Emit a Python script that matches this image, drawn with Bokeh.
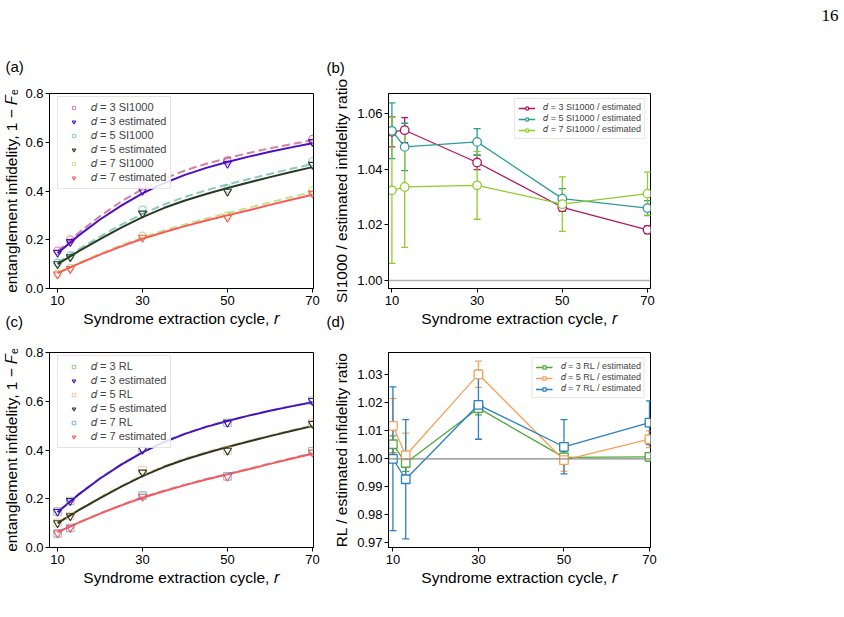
from bokeh.plotting import figure
from bokeh.layouts import column, row
from bokeh.models import (Range1d, FixedTicker, PrintfTickFormatter, Legend, LegendItem,
                          Title, Span, Whisker, TeeHead, ColumnDataSource)
from bokeh.embed import file_html
from bokeh.resources import INLINE

FONT = "Liberation Sans"

# ---------------- data ----------------
r_cycles = [10, 13, 30, 50, 70]
x_ticks = [10, 30, 50, 70]

# entanglement infidelity per distance
est_d3 = [0.147, 0.191, 0.402, 0.512, 0.602]
est_d5 = [0.100, 0.129, 0.308, 0.398, 0.508]
est_d7 = [0.058, 0.081, 0.209, 0.291, 0.390]
si_d3 = [0.155, 0.201, 0.419, 0.525, 0.613]
si_d5 = [0.105, 0.135, 0.323, 0.410, 0.521]
si_d7 = [0.060, 0.084, 0.216, 0.299, 0.402]
rl_d3 = [0.148, 0.191, 0.409, 0.512, 0.602]
rl_d5 = [0.101, 0.129, 0.317, 0.398, 0.512]
rl_d7 = [0.058, 0.080, 0.213, 0.292, 0.395]

# fitted infidelity curves
r_fit = [10, 15, 20, 25, 30, 35, 40, 45, 50, 55, 60, 65, 70]
fit_est_d3 = [0.145, 0.218, 0.283, 0.340, 0.390, 0.432, 0.466, 0.495, 0.519, 0.541, 0.561, 0.579, 0.596]
fit_si_d3 = [0.153, 0.229, 0.297, 0.357, 0.408, 0.450, 0.484, 0.512, 0.535, 0.556, 0.575, 0.592, 0.608]
fit_est_d5 = [0.100, 0.153, 0.203, 0.250, 0.293, 0.330, 0.361, 0.388, 0.412, 0.435, 0.457, 0.478, 0.498]
fit_si_d5 = [0.106, 0.161, 0.213, 0.262, 0.306, 0.344, 0.376, 0.403, 0.427, 0.449, 0.470, 0.491, 0.511]
fit_est_d7 = [0.063, 0.102, 0.139, 0.173, 0.204, 0.231, 0.256, 0.279, 0.300, 0.321, 0.343, 0.364, 0.385]
fit_si_d7 = [0.065, 0.105, 0.143, 0.178, 0.210, 0.238, 0.263, 0.287, 0.309, 0.331, 0.353, 0.375, 0.397]
fit_rl_d3 = [0.146, 0.219, 0.285, 0.342, 0.392, 0.434, 0.468, 0.497, 0.520, 0.542, 0.562, 0.580, 0.597]
fit_rl_d5 = [0.101, 0.155, 0.206, 0.253, 0.297, 0.334, 0.365, 0.392, 0.415, 0.438, 0.460, 0.481, 0.501]
fit_rl_d7 = [0.063, 0.103, 0.140, 0.175, 0.206, 0.233, 0.258, 0.281, 0.302, 0.323, 0.345, 0.366, 0.387]

# infidelity ratios and their uncertainties
ratio_si_d3 = [1.0534, 1.0540, 1.0424, 1.0263, 1.0182]
err_si_d3 = [0.0054, 0.0045, 0.0026, 0.0015, 0.0014]
ratio_si_d5 = [1.0538, 1.0480, 1.0498, 1.0294, 1.0260]
err_si_d5 = [0.0100, 0.0085, 0.0048, 0.0036, 0.0027]
ratio_si_d7 = [1.0324, 1.0336, 1.0342, 1.0274, 1.0312]
err_si_d7 = [0.0263, 0.0217, 0.0122, 0.0098, 0.0077]

ratio_rl_d3 = [1.0052, 0.9985, 1.0181, 1.0005, 1.0007]
err_rl_d3 = [0.0030, 0.0030, 0.0024, 0.0020, 0.0015]
ratio_rl_d5 = [1.0118, 1.0012, 1.0302, 0.9995, 1.0070]
err_rl_d5 = [0.0098, 0.0080, 0.0047, 0.0039, 0.0030]
ratio_rl_d7 = [1.0000, 0.9927, 1.0193, 1.0043, 1.0129]
err_rl_d7 = [0.0257, 0.0213, 0.0123, 0.0097, 0.0078]

# ---------------- colours ----------------
C_SI = {3: "#b5165f", 5: "#2b9d96", 7: "#8fcc2c"}
C_RL = {3: "#4ea93a", 5: "#f6a15a", 7: "#2b7fc3"}
C_EST = {3: "#4b0ec6", 5: "#2a3a20", 7: "#ff5757"}

XLABEL = "Syndrome extraction cycle, 𝑟"
YLABEL_INF = "entanglement infidelity, 1 − 𝐹ₑ"


def make_fig(width, height, xr, yr, left, right, top, bottom):
    p = figure(width=width, height=height, x_range=Range1d(*xr), y_range=Range1d(*yr),
               output_backend="svg", toolbar_location=None,
               min_border_left=left, min_border_right=right,
               min_border_top=top, min_border_bottom=bottom)
    p.xgrid.visible = False
    p.ygrid.visible = False
    p.outline_line_color = "black"
    p.outline_line_width = 1
    p.background_fill_color = "white"
    p.border_fill_color = "white"
    return p


def style_axes(p, yticks, yfmt, ylabel, ylab_standoff):
    p.xaxis.ticker = FixedTicker(ticks=x_ticks)
    p.yaxis.ticker = FixedTicker(ticks=yticks)
    p.xaxis.formatter = PrintfTickFormatter(format="%d")
    p.yaxis.formatter = PrintfTickFormatter(format=yfmt)
    for ax in p.axis:
        ax.axis_line_color = "black"
        ax.axis_line_width = 1
        ax.major_tick_line_color = "black"
        ax.major_tick_out = 4
        ax.major_tick_in = 0
        ax.minor_tick_line_color = None
        ax.major_label_text_font = FONT
        ax.major_label_text_font_size = "13px"
        ax.major_label_text_color = "black"
        ax.axis_label_text_font = FONT
        ax.axis_label_text_font_size = "15.5px"
        ax.axis_label_text_font_style = "normal"
        ax.axis_label_text_color = "black"
    p.xaxis.axis_label = XLABEL
    p.yaxis.axis_label = ylabel
    p.xaxis.major_label_standoff = 3
    p.xaxis.axis_label_standoff = 2
    p.yaxis.major_label_standoff = 2
    p.yaxis.axis_label_standoff = ylab_standoff


def add_title(p, text, place, offset, standoff, valign, align="left",
              size="15px", font=FONT):
    t = Title(text=text, align=align, offset=offset, standoff=standoff,
              vertical_align=valign, text_font=font, text_font_size=size,
              text_font_style="normal", text_color="black")
    p.add_layout(t, place)


def infidelity_panel(p, ref_pts, ref_fits, marker, ref_colors, ref_name):
    est_pts = {3: est_d3, 5: est_d5, 7: est_d7}
    est_fits = {3: fit_est_d3, 5: fit_est_d5, 7: fit_est_d7}
    for d in (3, 5, 7):
        p.line(r_fit, ref_fits[d], line_color=ref_colors[d], line_alpha=0.55,
               line_width=2, line_dash="8 4")
    for d in (3, 5, 7):
        p.line(r_fit, est_fits[d], line_color=C_EST[d], line_width=2)
    items = []
    for d in (3, 5, 7):
        rr = p.scatter(r_cycles, ref_pts[d], marker=marker, size=7.5, fill_color=None,
                       line_color=ref_colors[d], line_alpha=0.55, line_width=1.1)
        re = p.scatter(r_cycles, est_pts[d], marker="inverted_triangle", size=8,
                       fill_color=None, line_color=C_EST[d], line_width=1.1)
        items.append(LegendItem(label=f"𝑑 = {d} {ref_name}", renderers=[rr]))
        items.append(LegendItem(label=f"𝑑 = {d} estimated", renderers=[re]))
    leg = Legend(items=items, location=(8, 99), label_text_font=FONT,
                 label_text_font_size="11px", label_height=9, glyph_height=9,
                 glyph_width=23, label_standoff=6, spacing=1, padding=4, margin=0,
                 border_line_color="#cccccc", border_line_width=1,
                 background_fill_color="white", background_fill_alpha=0.85)
    p.add_layout(leg)


def ratio_panel(p, ratios, errs, colors, marker, name, span_color, span_width):
    p.add_layout(Span(location=1.0, dimension="width", line_color=span_color,
                      line_width=span_width))
    items = []
    for d in (3, 5, 7):
        lo = [v - e for v, e in zip(ratios[d], errs[d])]
        hi = [v + e for v, e in zip(ratios[d], errs[d])]
        src = ColumnDataSource(dict(x=r_cycles, y=ratios[d], lo=lo, hi=hi))
        c = colors[d]
        w = Whisker(source=src, base="x", upper="hi", lower="lo", dimension="height",
                    line_color=c, line_width=1.3, level="underlay",
                    upper_head=TeeHead(size=7, line_color=c, line_width=1.3),
                    lower_head=TeeHead(size=7, line_color=c, line_width=1.3))
        p.add_layout(w)
        ln = p.line("x", "y", source=src, line_color=c, line_width=1.3)
        sc = p.scatter("x", "y", source=src, marker=marker, size=8.5, fill_color="white",
                       line_color=c, line_width=1.3)
        items.append(LegendItem(label=f"𝑑 = {d} {name} / estimated", renderers=[ln, sc]))
    leg = Legend(items=items, location="top_right", label_text_font=FONT,
                 label_text_font_size="9px", label_height=8, glyph_height=8,
                 glyph_width=17, label_standoff=8, spacing=0, padding=3, margin=5,
                 border_line_color="#cccccc", border_line_width=1,
                 background_fill_color="white", background_fill_alpha=0.85)
    p.add_layout(leg)


# ---------------- (a) SI1000 vs estimated infidelity ----------------
pa = make_fig(320, 332, (8.1, 70.25), (0.0, 0.8), 49, 7, 93, 44)
style_axes(pa, [0.0, 0.2, 0.4, 0.6, 0.8], "%.1f", YLABEL_INF, 2)
infidelity_panel(pa, {3: si_d3, 5: si_d5, 7: si_d7},
                 {3: fit_si_d3, 5: fit_si_d5, 7: fit_si_d7}, "circle", C_SI, "SI1000")
add_title(pa, "(a)", "above", -44, 38, "bottom")
add_title(pa, "(c)", "below", -44, -33, "top")

# ---------------- (b) SI1000 / estimated ratio ----------------
pb = make_fig(340, 332, (9.2, 70.7), (0.9971, 1.0672), 68, 10, 93, 44)
style_axes(pb, [1.00, 1.02, 1.04, 1.06], "%.2f", "SI1000 / estimated infidelity ratio", 4)
ratio_panel(pb, {3: ratio_si_d3, 5: ratio_si_d5, 7: ratio_si_d7},
            {3: err_si_d3, 5: err_si_d5, 7: err_si_d7}, C_SI, "circle", "SI1000",
            "#b0b0b0", 1.5)
add_title(pb, "(b)", "above", -62, 36, "bottom")
add_title(pb, "(d)", "below", -62, -33, "top")

# ---------------- page number strip ----------------
pe = figure(width=184, height=332, x_range=Range1d(0, 1), y_range=Range1d(0, 1),
            output_backend="svg", toolbar_location=None, min_border=0,
            min_border_top=93)
pe.axis.visible = False
pe.grid.visible = False
pe.outline_line_color = None
# an empty spacer title keeps the page number near the top edge
add_title(pe, " ", "above", 0, 68, "top", size="1px")
add_title(pe, "16", "above", 6, 0, "top", align="right", size="17px",
          font="Liberation Serif")

# ---------------- (c) RL vs estimated infidelity ----------------
pc = make_fig(320, 285, (8.1, 70.25), (0.0, 0.8), 49, 7, 20, 70)
style_axes(pc, [0.0, 0.2, 0.4, 0.6, 0.8], "%.1f", YLABEL_INF, 2)
infidelity_panel(pc, {3: rl_d3, 5: rl_d5, 7: rl_d7},
                 {3: fit_rl_d3, 5: fit_rl_d5, 7: fit_rl_d7}, "square", C_RL, "RL")

# ---------------- (d) RL / estimated ratio ----------------
pd = make_fig(524, 285, (8.97, 70.24), (0.9683, 1.0380), 68, 194, 20, 70)
style_axes(pd, [0.97, 0.98, 0.99, 1.00, 1.01, 1.02, 1.03], "%.2f",
           "RL / estimated infidelity ratio", 4)
ratio_panel(pd, {3: ratio_rl_d3, 5: ratio_rl_d5, 7: ratio_rl_d7},
            {3: err_rl_d3, 5: err_rl_d5, 7: err_rl_d7}, C_RL, "square", "RL",
            "#888888", 1.2)

layout = column(row(pa, pb, pe), row(pc, pd))
open("out.html", "w").write(file_html(layout, INLINE))
